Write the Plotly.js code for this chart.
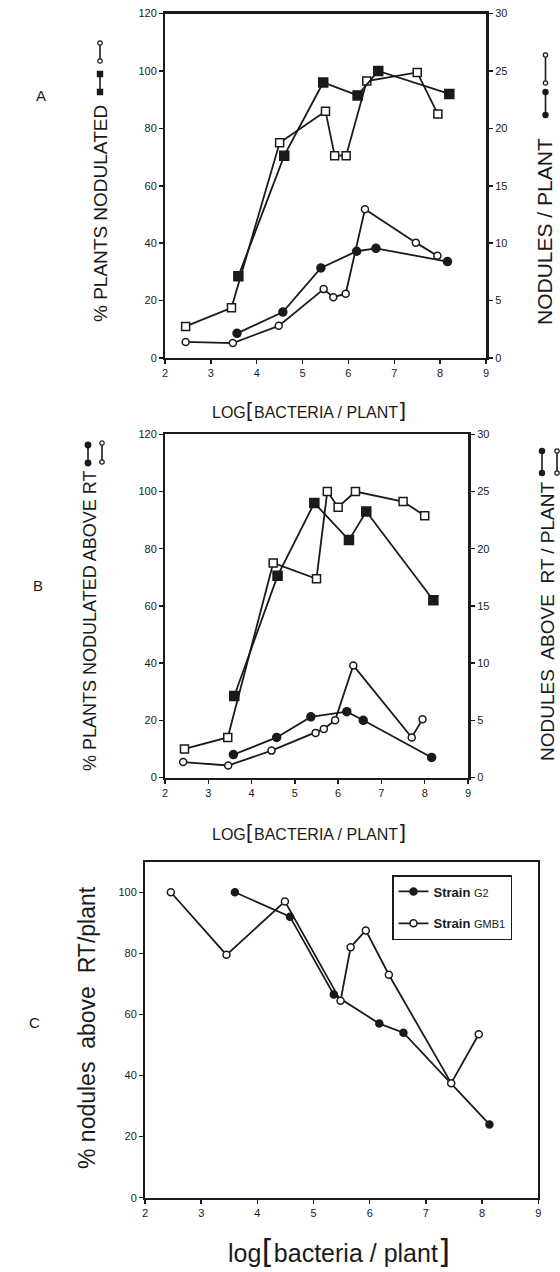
<!DOCTYPE html>
<html><head><meta charset="utf-8">
<script src="https://cdn.plot.ly/plotly-3.0.1.min.js"></script>
<style>html,body{margin:0;padding:0;background:#fff}</style>
</head><body><div id="chart" style="width:560px;height:1272px"></div>
<script>
// ---------- Panel A ----------
const aFilledSqX = [3.6, 4.6, 5.45, 6.2, 6.65, 8.2];
const aFilledSqY = [28.5, 70.5, 96, 91.5, 100, 92];
const aOpenSqX = [2.45, 3.45, 4.5, 5.5, 5.7, 5.95, 6.4, 7.5, 7.95];
const aOpenSqY = [11, 17.5, 75, 86, 70.5, 70.5, 96.5, 99.5, 85];
const aFilledCircX = [3.57, 4.57, 5.4, 6.18, 6.6, 8.16];
const aFilledCircY = [2.15, 4.0, 7.85, 9.3, 9.55, 8.4];
const aOpenCircX = [2.45, 3.48, 4.48, 5.46, 5.67, 5.94, 6.36, 7.47, 7.94];
const aOpenCircY = [1.4, 1.3, 2.8, 6.0, 5.3, 5.6, 12.95, 10.05, 8.9];
// ---------- Panel B ----------
const bFilledSqX = [3.6, 4.6, 5.45, 6.25, 6.65, 8.2];
const bFilledSqY = [28.5, 70.5, 96, 83, 93, 62];
const bOpenSqX = [2.45, 3.45, 4.5, 5.5, 5.75, 6.0, 6.4, 7.5, 8.0];
const bOpenSqY = [10, 14, 75, 69.5, 100, 94.5, 100, 96.5, 91.5];
const bFilledCircX = [3.58, 4.58, 5.37, 6.2, 6.58, 8.16];
const bFilledCircY = [2.0, 3.5, 5.3, 5.75, 5.0, 1.75];
const bOpenCircX = [2.42, 3.46, 4.46, 5.48, 5.67, 5.93, 6.35, 7.7, 7.95];
const bOpenCircY = [1.35, 1.05, 2.35, 3.9, 4.25, 5.0, 9.8, 3.5, 5.1];
// ---------- Panel C ----------
const cG2X = [3.6, 4.58, 5.36, 6.17, 6.6, 8.13];
const cG2Y = [100, 92, 66.5, 57, 54, 24];
const cGMB1X = [2.46, 3.45, 4.49, 5.48, 5.66, 5.93, 6.34, 7.45, 7.94];
const cGMB1Y = [100, 79.5, 97, 64.5, 82, 87.5, 73, 37.5, 53.5];
const seriesNames = ["<b>Strain</b> <span style='font-size:11px'>G2</span>", "<b>Strain</b> <span style='font-size:11px'>GMB1</span>"];

const W = 560, H = 1272;
const px = v => v / W, py = v => 1 - v / H;
const FONT = "Liberation Sans, Arial, sans-serif";
const INK = "#1a1a1a";

function tr(x, y, xa, ya, symbol, size, filled, extra) {
  return Object.assign({
    x: x, y: y, xaxis: xa, yaxis: ya, type: 'scatter', mode: 'lines+markers',
    line: {color: INK, width: 1.8},
    marker: {symbol: symbol, size: size, color: filled ? INK : '#fff', line: {color: INK, width: 1.5}},
    showlegend: false, cliponaxis: false
  }, extra || {});
}

const data = [
  tr(aOpenSqX, aOpenSqY, 'x', 'y', 'square', 8, false),
  tr(aFilledSqX, aFilledSqY, 'x', 'y', 'square', 9, true),
  tr(aOpenCircX, aOpenCircY, 'x', 'y2', 'circle', 7, false),
  tr(aFilledCircX, aFilledCircY, 'x', 'y2', 'circle', 8, true),
  tr(bOpenSqX, bOpenSqY, 'x2', 'y3', 'square', 8, false),
  tr(bFilledSqX, bFilledSqY, 'x2', 'y3', 'square', 9, true),
  tr(bOpenCircX, bOpenCircY, 'x2', 'y4', 'circle', 7, false),
  tr(bFilledCircX, bFilledCircY, 'x2', 'y4', 'circle', 8, true),
  tr(cG2X, cG2Y, 'x3', 'y5', 'circle', 7, true, {name: seriesNames[0], showlegend: true, legendgroup: 'g1'}),
  tr(cGMB1X, cGMB1Y, 'x3', 'y5', 'circle', 7, false, {name: seriesNames[1], showlegend: true, legendgroup: 'g2'})
];

const tickFont = {family: FONT, size: 11, color: INK};
function xax(d0, d1, anchor) {
  return {domain: [px(d0), px(d1)], range: [2, 9], anchor: anchor, dtick: 1, tick0: 2,
    showgrid: false, zeroline: false, showline: true, linewidth: 2.2, linecolor: INK, mirror: true,
    ticks: 'outside', ticklen: 4, tickwidth: 1.5, tickcolor: INK, tickfont: tickFont, fixedrange: true};
}
function yax(d0, d1, anchor, range, dtick, extra) {
  return Object.assign({domain: [py(d0), py(d1)], range: range, anchor: anchor, dtick: dtick, tick0: 0,
    showgrid: false, zeroline: false, showline: true, linewidth: 2, linecolor: INK,
    ticks: 'outside', ticklen: 4, tickwidth: 1.5, tickcolor: INK, tickfont: tickFont, fixedrange: true}, extra || {});
}

const layout = {
  width: W, height: H, margin: {l: 0, r: 0, t: 0, b: 0},
  paper_bgcolor: '#fff', plot_bgcolor: '#fff', font: {family: FONT, color: INK},
  xaxis: xax(165, 486, 'y'),
  yaxis: yax(358, 13.6, 'x', [0, 120], 20),
  yaxis2: yax(358, 13.6, 'x', [0, 30], 5, {overlaying: 'y', side: 'right', linewidth: 3}),
  xaxis2: xax(165, 468, 'y3'),
  yaxis3: yax(777.5, 434.3, 'x2', [0, 120], 20),
  yaxis4: yax(777.5, 434.3, 'x2', [0, 30], 5, {overlaying: 'y3', side: 'right', linewidth: 3}),
  xaxis3: xax(145, 538.3, 'y5'),
  yaxis5: yax(1197.7, 861.7, 'x3', [0, 110], 20, {mirror: true, tickvals: [0, 20, 40, 60, 80, 100]}),
  legend: {x: px(392), y: py(875), xanchor: 'left', yanchor: 'top', bordercolor: INK, borderwidth: 1.5,
    bgcolor: '#fff', font: {family: FONT, size: 13, color: INK}, traceorder: 'grouped', tracegroupgap: 12,
    itemwidth: 30, entrywidth: 125, valign: 'middle'},
  annotations: [],
  shapes: []
};

function ann(text, x, y, size, angle) {
  layout.annotations.push({text: text, x: px(x), y: py(y), xref: 'paper', yref: 'paper', showarrow: false,
    xanchor: 'center', yanchor: 'middle', textangle: angle || 0, font: {family: FONT, size: size, color: INK}});
}
const BR = (s, sz) => "<span style='font-size:" + sz + "px;font-family:DejaVu Sans'>" + s + "</span>";
ann("LOG" + BR("[", 21) + "BACTERIA / PLANT" + BR("]", 21), 309, 411, 16);
ann("LOG" + BR("[", 21) + "BACTERIA / PLANT" + BR("]", 21), 309, 833, 16);
ann("log" + BR("[", 32) + "bacteria / plant" + BR("]", 32), 339, 1251, 25);
ann("% PLANTS NODULATED", 100, 214, 19, -90);
ann("NODULES / PLANT", 545, 232, 21, -90);
ann("% PLANTS NODULATED ABOVE RT", 90, 621, 18, -90);
ann("NODULES  ABOVE  RT / PLANT", 547, 621, 19, -90);
ann("% nodules  above  RT/plant", 87, 1028, 23, -90);
ann("A", 41, 95, 15);
ann("B", 38, 585, 15);
ann("C", 34, 1022, 15);

// legend key glyphs beside the axis titles (decorations)
function vline(x, y0, y1) {
  layout.shapes.push({type: 'line', xref: 'paper', yref: 'paper', x0: px(x), x1: px(x), y0: py(y0), y1: py(y1), line: {color: INK, width: 1.6}});
}
function dot(x, y, r, filled, kind) {
  layout.shapes.push({type: kind || 'circle', xref: 'paper', yref: 'paper', x0: px(x - r), x1: px(x + r), y0: py(y - r), y1: py(y + r),
    fillcolor: filled ? INK : '#fff', line: {color: INK, width: 1.2}});
}
function pair(x, y0, y1, r, filled, kind) { vline(x, y0, y1); dot(x, y0, r, filled, kind); dot(x, y1, r, filled, kind); }
pair(100, 43, 61, 2.2, false);
pair(100, 74, 92, 2.6, true, 'rect');
pair(545.5, 55, 83, 2.2, false);
pair(545.5, 92, 115, 2.6, true);
pair(88, 445, 463, 2.8, true);
pair(102, 443, 462, 2.2, false);
pair(542, 451, 473, 2.6, true);
pair(557, 451, 473, 2.2, false);

Plotly.newPlot('chart', data, layout, {staticPlot: true});
</script></body></html>
